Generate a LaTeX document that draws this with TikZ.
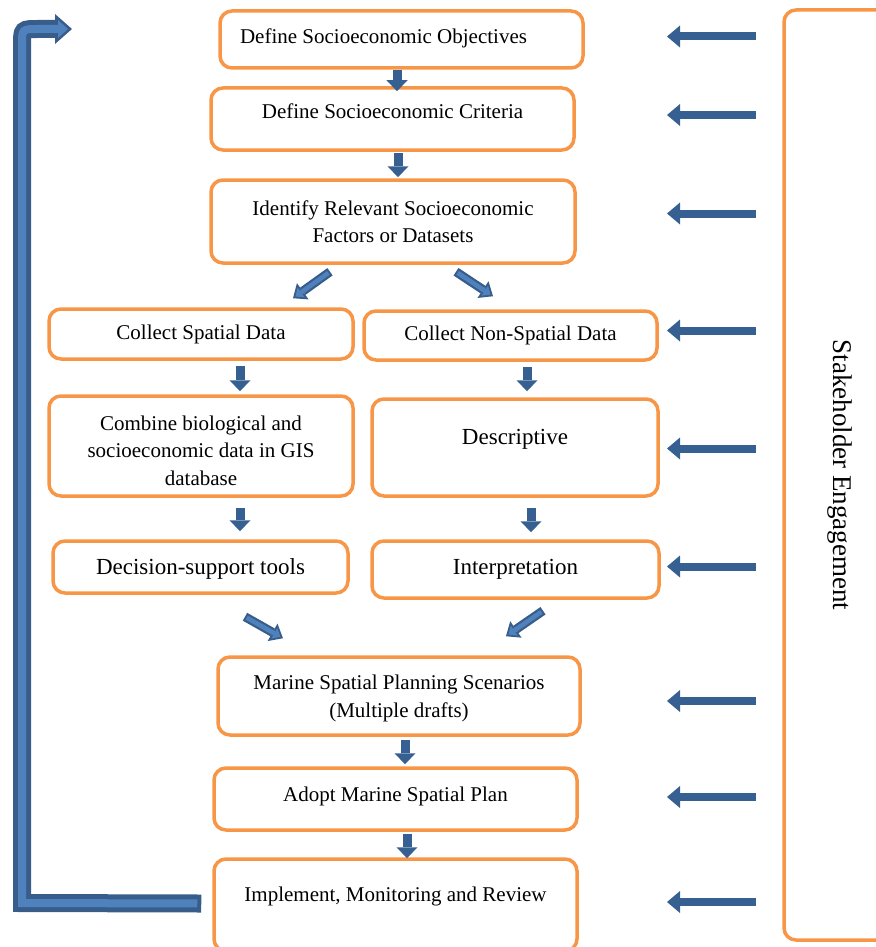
\documentclass[tikz,border=0pt]{standalone}
\usepackage{fontspec}
\setmainfont{Liberation Serif}
\usetikzlibrary{arrows.meta}
\definecolor{boxorange}{RGB}{247,150,70}
\definecolor{arrowdark}{RGB}{56,93,138}
\definecolor{arrowlight}{RGB}{79,129,189}
\definecolor{downblue}{RGB}{55,96,146}

\tikzset{
  box/.style={draw=boxorange, line width=3.5pt, rounded corners=12pt, align=center, inner sep=0pt},
  txt/.style={font=\fontsize{21}{27.5}\selectfont},
  bigtxt/.style={font=\fontsize{23}{27}\selectfont},
  downarr/.style={draw=downblue, line width=9pt, -{Triangle[width=21pt,length=11pt,line width=0pt]}},
  sidearr/.style={draw=downblue, line width=8pt, -{Triangle[width=22pt,length=13pt,line width=0pt]}},
  diagarr/.style={draw=arrowdark, line width=9pt, -{Triangle[width=20pt,length=12pt,line width=0pt]},
    postaction={draw=arrowlight, line width=4.5pt, shorten >=3pt, shorten <=2pt, -{Triangle[width=12pt,length=7pt,line width=0pt]}}},
  looparr/.style={draw=arrowdark, line width=18pt, -{Triangle[width=30pt,length=17pt,line width=0pt]},
    postaction={draw=arrowlight, line width=8pt, shorten >=4pt, shorten <=4pt, -{Triangle[width=18pt,length=10pt,line width=0pt]}}}
}

\begin{document}
\begin{tikzpicture}[x=1pt, y=-1pt]
\useasboundingbox (0,0) rectangle (875,947);

% main column
\node[box, txt, minimum width=363, minimum height=57, text depth=6pt] (obj) at (401.5,39.5) {Define Socioeconomic Objectives\hspace*{36pt}};
\node[box, txt, minimum width=363, minimum height=62, text depth=16pt] (crit) at (392.5,119) {Define Socioeconomic Criteria};
\node[box, txt, minimum width=364, minimum height=83] (ident) at (393,221.5) {Identify Relevant Socioeconomic\\Factors or Datasets};

% spatial branch
\node[box, txt, minimum width=304, minimum height=50] (spatial) at (201,334) {Collect Spatial Data};
\node[box, txt, minimum width=304, minimum height=100] (combine) at (201,446) {\rule{0pt}{24pt}Combine biological and\\socioeconomic data in GIS\\database};
\node[box, bigtxt, minimum width=295, minimum height=52, text depth=1pt] (dst) at (200.5,567) {Decision-support tools};

% non-spatial branch
\node[box, txt, minimum width=293, minimum height=49] (nonsp) at (510.5,335.5) {Collect Non-Spatial Data};
\node[box, bigtxt, minimum width=286, minimum height=97, text depth=22pt] (descr) at (515,447.5) {Descriptive};
\node[box, bigtxt, minimum width=287, minimum height=57] (interp) at (515.5,569.5) {Interpretation};

% planning
\node[box, txt, minimum width=362, minimum height=78, text depth=-1.5pt] (marine) at (399,696) {Marine Spatial Planning Scenarios\\(Multiple drafts)};
\node[box, txt, minimum width=363, minimum height=62, text depth=10pt] (adopt) at (395.5,799) {Adopt Marine Spatial Plan};
\node[box, minimum width=363, minimum height=92] (impl) at (395.5,905) {};
\node[txt] (impltxt) at ([yshift=-39]impl.north) {Implement, Monitoring and Review};

% stakeholders
\node[box, minimum width=930, minimum height=122, rotate=-90, text height=28pt, font=\fontsize{27}{30}\selectfont] (stake) at (845,475) {Stakeholder Engagement};

% down arrows
\draw[downarr, shorten >=-5pt] ([xshift=-4.5]obj.south) -- ([xshift=4.5]crit.north);
\draw[downarr, shorten <=1pt, shorten >=1pt] ([xshift=5.5]crit.south) -- ([xshift=5]ident.north);
\draw[downarr, shorten <=5pt, shorten >=3pt] ([xshift=39]spatial.south) -- ([xshift=39]combine.north);
\draw[downarr, shorten <=5pt, shorten >=6pt] ([xshift=16.5]nonsp.south) -- ([xshift=12]descr.north);
\draw[downarr, shorten <=10pt, shorten >=8pt] ([xshift=39]combine.south) -- ([xshift=39.5]dst.north);
\draw[downarr, shorten <=10pt, shorten >=7pt] ([xshift=16]descr.south) -- ([xshift=15.5]interp.north);
\draw[downarr, shorten <=3pt, shorten >=2pt] ([xshift=6]marine.south) -- ([xshift=9.5]adopt.north);
\draw[downarr, shorten <=2pt, shorten >=-1pt] ([xshift=11.5]adopt.south) -- ([xshift=11.5]impl.north);

% slanted arrows
\draw[diagarr] ([shift={(-63,7)}]ident.south) -- ([shift={(92,-9)}]spatial.north);
\draw[diagarr] ([shift={(63,7)}]ident.south) -- ([shift={(-17.5,-13)}]nonsp.north);
\draw[diagarr] ([shift={(44.5,22)}]dst.south) -- ([shift={(-116,-17)}]marine.north);
\draw[diagarr] ([shift={(27.5,11)}]interp.south) -- ([shift={(107,-19)}]marine.north);

% arrows from the stakeholders
\coordinate (sidetip) at (667,0);
\foreach \n/\dy in {obj/-3,crit/-4,ident/-8,nonsp/-5,descr/1,interp/-3,marine/5,adopt/-2,impl/-3}
  \draw[sidearr] ([xshift=-26pt, yshift=-\dy pt]stake.south |- \n) -- ([yshift=-\dy pt]sidetip |- \n);

% feedback loop
\coordinate (loopend) at (72,29);
\draw[looparr] ([shift={(-11,-1.5)}]impl.west) -- (22,903) -- (22,45) .. controls (22,29) .. (38,29) -- (loopend);
\end{tikzpicture}
\end{document}
